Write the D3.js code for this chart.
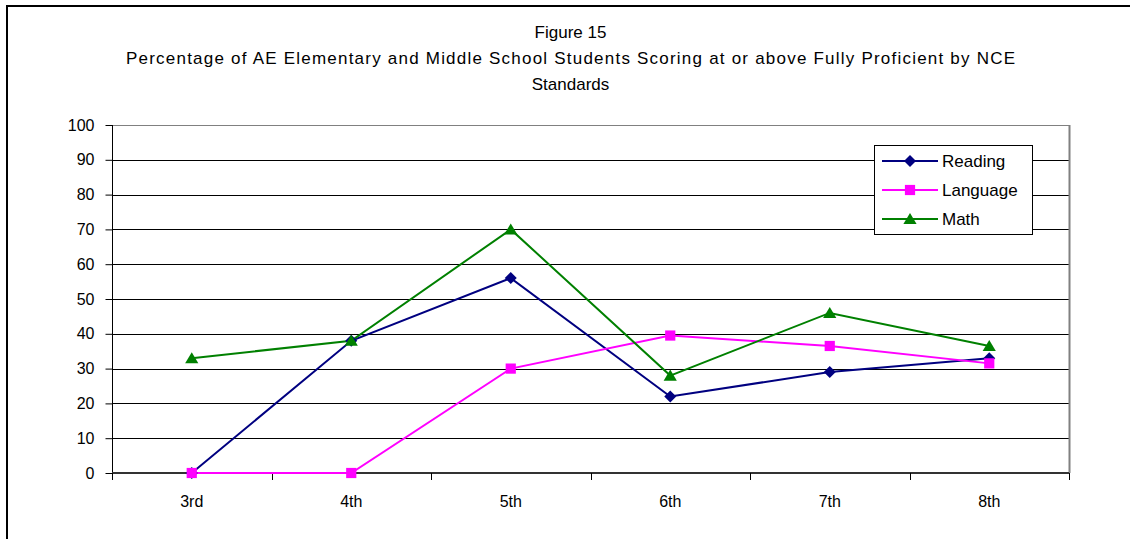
<!DOCTYPE html>
<html><head><meta charset="utf-8">
<script src="https://cdn.jsdelivr.net/npm/d3@7"></script>
<style>body{margin:0;background:#fff;} svg{display:block;font-family:"Liberation Sans",Arial,sans-serif;}</style>
</head><body>
<svg id="c" width="1130" height="539"></svg>
<script>
const categories = ["3rd","4th","5th","6th","7th","8th"];
const reading  = [0, 38, 56, 22, 29, 33];
const language = [0, 0, 30, 39.5, 36.5, 31.5];
const math     = [33, 38, 70, 28, 46, 36.5];
const yTicks = [0,10,20,30,40,50,60,70,80,90,100];
const seriesNames = ["Reading","Language","Math"];
const titleLines = ["Figure 15","Percentage of AE Elementary and Middle School Students Scoring at or above Fully Proficient by NCE","Standards"];

const series = [
  {name: seriesNames[0], values: reading,  color: "#000080", shape: "diamond"},
  {name: seriesNames[1], values: language, color: "#FF00FF", shape: "square"},
  {name: seriesNames[2], values: math,     color: "#008000", shape: "triangle"}
];

const svg = d3.select("#c");
const m = {left:112, right:1069, top:125, bottom:473};

// outer frame
svg.append("rect").attr("x",7).attr("y",6).attr("width",1140).attr("height",560)
  .attr("fill","none").attr("stroke","#000").attr("stroke-width",2);

// title
const tY = [32, 58, 84];
titleLines.forEach((t,i)=>{
  const tx = svg.append("text").attr("x",570.5).attr("y",tY[i]+6).attr("text-anchor","middle")
    .attr("font-size",17).attr("fill","#000").text(t);
  if(i===1){ tx.attr("textLength",889).attr("lengthAdjust","spacing"); }
});

const x = d3.scaleBand().domain(categories).range([m.left,m.right]);
const y = d3.scaleLinear().domain([0,100]).range([m.bottom,m.top]);

// gridlines
svg.append("g").selectAll("line").data(yTicks.filter(d=>d>0)).join("line")
  .attr("x1",m.left).attr("x2",m.right)
  .attr("y1",d=>Math.round(y(d))+0.5).attr("y2",d=>Math.round(y(d))+0.5)
  .attr("stroke",d=>d===100?"#808080":"#000").attr("stroke-width",1);

// right border of plot area
svg.append("line").attr("x1",m.right+0.5).attr("x2",m.right+0.5).attr("y1",m.top).attr("y2",m.bottom)
  .attr("stroke","#808080").attr("stroke-width",2);

// y axis
const yAxis = d3.axisLeft(y).tickValues(yTicks).tickSize(7).tickPadding(11);
const gy = svg.append("g").attr("transform",`translate(${m.left+0.5},0)`).call(yAxis);
gy.select(".domain").attr("stroke","#000").attr("d",`M0,${m.top}V${m.bottom}`);
gy.selectAll(".tick line").attr("stroke","#000");
gy.selectAll(".tick text").attr("font-size",16).attr("font-family","Liberation Sans, Arial, sans-serif").attr("fill","#000");

// x axis
const xAxis = d3.axisBottom(x).tickSize(0).tickPadding(23);
const gx = svg.append("g").attr("transform",`translate(0,${m.bottom})`).call(xAxis);
gx.select(".domain").attr("stroke","#333").attr("stroke-width",2).attr("d",`M${m.left},0H${m.right}`);
gx.selectAll(".tick text").attr("font-size",16).attr("font-family","Liberation Sans, Arial, sans-serif").attr("fill","#000");
// category boundary ticks
const bounds = categories.map(c=>x(c)).concat([x(categories[categories.length-1])+x.bandwidth()]);
svg.append("g").selectAll("line").data(bounds).join("line")
  .attr("x1",d=>Math.round(d)+0.5).attr("x2",d=>Math.round(d)+0.5)
  .attr("y1",m.bottom).attr("y2",m.bottom+7).attr("stroke","#000");

const cx = c => x(c) + x.bandwidth()/2;

function marker(g, shape, color, s){
  if(shape==="diamond"){
    g.append("path").attr("d",`M0,${-s}L${s},0L0,${s}L${-s},0Z`).attr("fill",color);
  } else if(shape==="square"){
    g.append("rect").attr("x",-s*0.85).attr("y",-s*0.85).attr("width",s*1.7).attr("height",s*1.7).attr("fill",color);
  } else {
    g.append("path").attr("d",`M0,${-s}L${s*1.1},${s*0.85}L${-s*1.1},${s*0.85}Z`).attr("fill",color);
  }
}

const line = d3.line().x((d,i)=>cx(categories[i])).y(d=>y(d));
series.forEach(s=>{
  svg.append("path").datum(s.values).attr("d",line).attr("fill","none")
    .attr("stroke",s.color).attr("stroke-width",2);
});
series.forEach(s=>{
  s.values.forEach((v,i)=>{
    const g = svg.append("g").attr("transform",`translate(${cx(categories[i])},${y(v)})`);
    marker(g, s.shape, s.color, 6);
  });
});

// legend
const lg = svg.append("g");
lg.append("rect").attr("x",874.5).attr("y",145.5).attr("width",158).attr("height",89)
  .attr("fill","#fff").attr("stroke","#000").attr("stroke-width",1);
const rowY = [161, 190, 219];
series.forEach((s,i)=>{
  lg.append("line").attr("x1",882).attr("x2",938).attr("y1",rowY[i]).attr("y2",rowY[i])
    .attr("stroke",s.color).attr("stroke-width",2);
  const g = lg.append("g").attr("transform",`translate(910,${rowY[i]})`);
  marker(g, s.shape, s.color, 6);
  lg.append("text").attr("x",942).attr("y",rowY[i]+6).attr("font-size",17).attr("fill","#000").text(s.name);
});
</script>
</body></html>
